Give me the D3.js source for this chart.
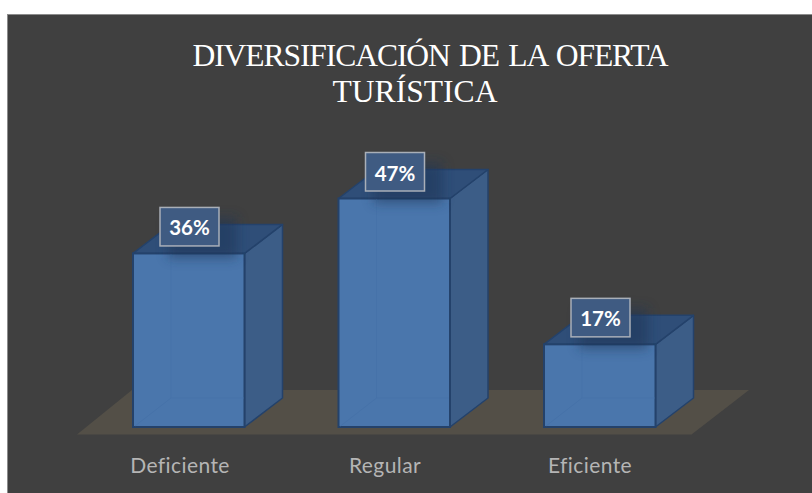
<!DOCTYPE html>
<html><head><meta charset="utf-8">
<script src="https://cdn.jsdelivr.net/npm/d3@7"></script>
<style>html,body{margin:0;padding:0;background:#fff}svg{display:block}</style>
</head><body><svg id="c" width="812" height="493"></svg>
<script>
const categories = ["Deficiente", "Regular", "Eficiente"];
const values = [0.357, 0.47, 0.17];
const titleLines = ["DIVERSIFICACIÓN DE LA OFERTA", "TURÍSTICA"];

const svg = d3.select("#c");
const defs = svg.append("defs");
defs.append("filter").attr("id","blur").attr("x","-40%").attr("y","-40%").attr("width","180%").attr("height","180%")
  .append("feGaussianBlur").attr("stdDeviation",6);

svg.append("rect").attr("x",7.5).attr("y",14.5).attr("width",810).attr("height",490)
  .attr("fill","#404040").attr("stroke","#8c8c8c").attr("stroke-width",1);

const baseY = 427, dx = 38, dy = -29;
const x0 = d3.scalePoint().domain(categories).range([133, 544]);
const barW = 111.5;
const y = d3.scaleLinear().domain([0, 0.47]).range([baseY, 198.5]);

svg.append("polygon").attr("fill","#534f47")
  .attr("points",[[77,434.5],[691.5,434.5],[749,390],[132,390]].map(p=>p.join(",")).join(" "));

const g = svg.selectAll("g.bar").data(categories.map((c,i)=>({c,v:values[i]}))).join("g").attr("class","bar");
const stroke = "#24426b";
const pts = a => a.map(p=>p.join(",")).join(" ");
g.each(function(d){
  const s = d3.select(this), L = x0(d.c), R = L+barW, T = y(d.v), B = baseY;
  s.append("polygon").attr("points",pts([[R,B],[R+dx,B+dy],[R+dx,T+dy],[R,T]])).attr("fill","#3c5d87").attr("stroke",stroke).attr("stroke-width",1.5).attr("stroke-linejoin","round");
  s.append("polygon").attr("points",pts([[L,T],[R,T],[R+dx,T+dy],[L+dx,T+dy]])).attr("fill","#2f4e78").attr("stroke",stroke).attr("stroke-width",1.5).attr("stroke-linejoin","round");
  s.append("rect").attr("x",L).attr("y",T).attr("width",barW).attr("height",B-T).attr("fill","#4a76ac").attr("stroke",stroke).attr("stroke-width",2);
  s.append("path").attr("d",`M${L+dx},${T+1}V${B+dy}H${R-1}M${L+dx},${B+dy}L${L+2},${B-1}`).attr("fill","none").attr("stroke","#4672a9").attr("stroke-width",1);
});

const lw = 59, lh = 38.5;
const lab = svg.selectAll("g.lab").data(categories.map((c,i)=>({c,v:values[i]}))).join("g").attr("class","lab");
const fmt = d3.format(".0%");
lab.each(function(d){
  const s = d3.select(this), T = y(d.v);
  const lx = x0(d.c)+27, ly = T-46;
  s.append("rect").attr("x",lx+8).attr("y",ly+10).attr("width",lw+10).attr("height",lh+2).attr("fill","#1d3556").attr("opacity",0.55).attr("filter","url(#blur)");
  s.append("rect").attr("x",lx).attr("y",ly).attr("width",lw).attr("height",lh).attr("fill","#3f5b82").attr("stroke","#a9afb8").attr("stroke-width",1.5);
  s.append("text").attr("x",lx+lw/2).attr("y",ly+28).attr("text-anchor","middle")
    .attr("font-family","Lato,sans-serif").attr("font-weight",700).attr("font-size",20.5).attr("fill","#fff").text(fmt(d.v));
});

const ax = d3.scalePoint().domain(categories).range([179.5, 589.5]);
const axisG = svg.append("g").attr("transform","translate(0,458)").call(d3.axisBottom(ax).tickSize(0).tickPadding(0));
axisG.select(".domain").remove();
axisG.selectAll("text").attr("font-family","Lato,sans-serif").attr("font-size",21).attr("letter-spacing",0.4).attr("fill","#b5b5b5").attr("dy","0.71em");

svg.append("g").selectAll("text").data(titleLines).join("text")
  .attr("x",(d,i)=>[430,415][i]).attr("y",(d,i)=>[66,102][i])
  .attr("text-anchor","middle").attr("font-family","'Liberation Serif',serif").attr("font-size",31.6)
  .attr("letter-spacing",(d,i)=>[-1.1,0][i]).attr("word-spacing",(d,i)=>[2.5,0][i])
  .attr("fill","#fff").text(d=>d);
</script></body></html>
